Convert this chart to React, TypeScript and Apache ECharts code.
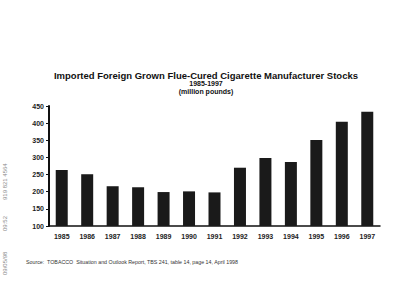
import React, { useEffect, useRef } from "react";
import * as echarts from "echarts";

const years = ["1985", "1986", "1987", "1988", "1989", "1990", "1991", "1992", "1993", "1994", "1995", "1996", "1997"];
const stocks = [263, 251, 216, 213, 199, 201, 198, 270, 298, 287, 351, 404, 433];
const yTicks = { min: 100, max: 450, interval: 50 };

const titleText = "Imported Foreign Grown Flue-Cured Cigarette Manufacturer Stocks";
const yearRangeText = "1985-1997";
const unitText = "(million pounds)";
const sourceText = "Source:  TOBACCO  Situation and Outlook Report, TBS 241, table 14, page 14, April 1998";
const faxDate = "09/05/98";
const faxTime = "09:52";
const faxNumber = "919 821 4564";

export default function App() {
  const ref = useRef<HTMLDivElement>(null);
  useEffect(() => {
    if (!ref.current) return;
    const chart = echarts.init(ref.current, null, { renderer: "svg" });
    const font = "Liberation Sans, Arial, sans-serif";
    const centered = (text: string, y: number, size: number) => ({
      type: "text",
      x: 206,
      y,
      style: {
        text,
        font: `bold ${size}px ${font}`,
        fill: "#111",
        textAlign: "center",
        textVerticalAlign: "middle",
      },
    });
    const faxText = (text: string, y: number) => ({
      type: "text",
      x: 5,
      y,
      rotation: Math.PI / 2,
      style: { text, font: `6px ${font}`, fill: "#8a8a8a", textVerticalAlign: "middle" },
    });
    chart.setOption({
      animation: false,
      backgroundColor: "#ffffff",
      grid: { left: 49, right: 20, top: 106, bottom: 80 },
      xAxis: {
        type: "category",
        data: years,
        axisLine: { lineStyle: { color: "#111", width: 1.5 } },
        axisTick: { show: false },
        axisLabel: { fontFamily: font, fontSize: 7, fontWeight: "bold", color: "#222", margin: 7 },
      },
      yAxis: {
        type: "value",
        min: yTicks.min,
        max: yTicks.max,
        interval: yTicks.interval,
        splitLine: { show: false },
        axisLine: { show: true, lineStyle: { color: "#111", width: 2 } },
        axisTick: { show: true, length: 3, lineStyle: { color: "#111", width: 1 } },
        axisLabel: { fontFamily: font, fontSize: 7, fontWeight: "bold", color: "#222", margin: 5 },
      },
      series: [
        {
          type: "bar",
          data: stocks,
          barWidth: 12,
          itemStyle: { color: "#1a1a1a" },
        },
      ],
      graphic: [
        centered(titleText, 75, 9.5),
        centered(yearRangeText, 83.5, 7),
        centered(unitText, 91, 7),
        {
          type: "text",
          x: 26,
          y: 262,
          style: { text: sourceText, font: `5.3px ${font}`, fill: "#333", textVerticalAlign: "middle" },
        },
        faxText(faxDate, 275),
        faxText(faxTime, 231),
        faxText(faxNumber, 200),
      ],
    });
    return () => chart.dispose();
  }, []);
  return <div ref={ref} style={{ position: "fixed", left: 0, top: 0, width: 400, height: 306 }} />;
}
